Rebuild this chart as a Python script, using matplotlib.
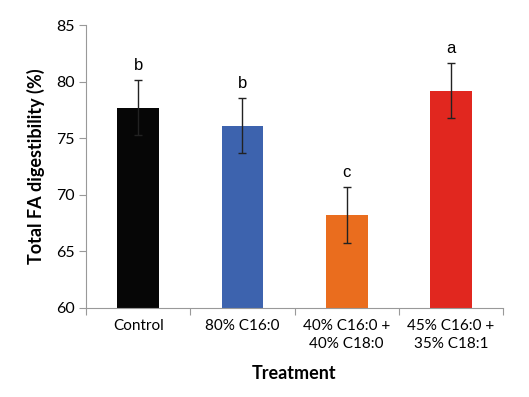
import matplotlib
matplotlib.use("Agg")
import matplotlib.pyplot as plt
import numpy as np

categories = ["Control", "80% C16:0", "40% C16:0 +\n40% C18:0", "45% C16:0 +\n35% C18:1"]
values = [77.7, 76.1, 68.2, 79.2]
errors = [2.45, 2.45, 2.45, 2.45]
letters = ["b", "b", "c", "a"]
colors = ["#060606", "#3d63ae", "#ea6d1e", "#e1271f"]
yticks = [60, 65, 70, 75, 80, 85]

fig = plt.figure(figsize=(5.29, 3.97), dpi=100)
ax = fig.add_axes([0.1626, 0.2242, 0.7884, 0.7128])

x = np.arange(len(categories))
ax.bar(x, values, width=0.4, color=colors, zorder=2)
ax.errorbar(x, values, yerr=errors, fmt="none", ecolor="#222222", elinewidth=1,
            capsize=3, capthick=1, zorder=3)
for xi, v, e, l in zip(x, values, errors, letters):
    ax.annotate(l, (xi, v + e), xytext=(0, 5), textcoords="offset points",
                ha="center", va="bottom", fontsize=12, family="Liberation Sans")

ax.set_xlim(-0.5, len(categories) - 0.5)
ax.set_ylim(60, 85)
ax.set_yticks(yticks)
ax.set_yticklabels([str(t) for t in yticks], fontsize=11.5, family="Lato")
ax.set_xticks(np.arange(-0.5, len(categories), 1.0))
ax.set_xticklabels([])
ax.set_xticks(x, minor=True)
ax.set_xticklabels(categories, minor=True, fontsize=11, family="Lato", linespacing=1.35)
ax.tick_params(axis="x", which="minor", length=0, pad=8)
ax.tick_params(axis="x", which="major", length=5, color="#999999")
ax.tick_params(axis="y", length=5, color="#999999", pad=3)

for s in ["top", "right"]:
    ax.spines[s].set_visible(False)
for s in ["left", "bottom"]:
    ax.spines[s].set_color("#999999")

ax.set_ylabel("Total FA digestibility (%)", fontsize=13, fontweight="bold", family="Lato", labelpad=8)
ax.set_xlabel("Treatment", fontsize=13, fontweight="bold", family="Lato", labelpad=10)

fig.savefig("out.png", dpi=100)
